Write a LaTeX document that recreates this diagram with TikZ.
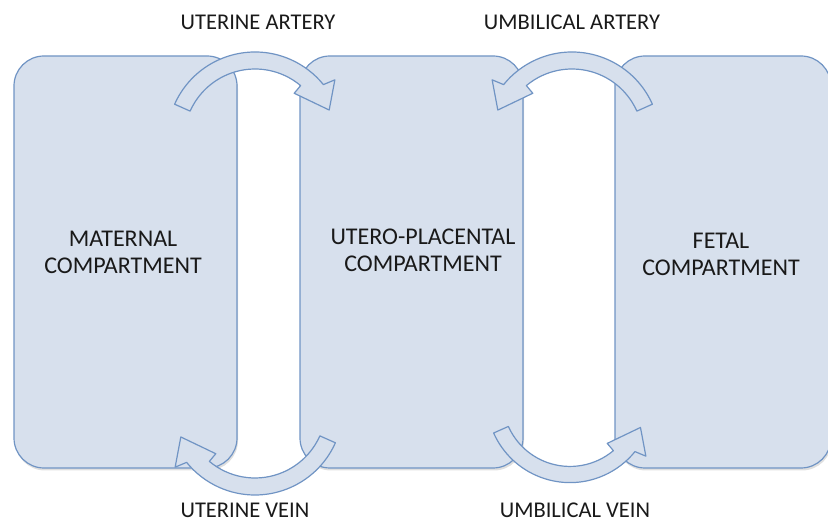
\documentclass[tikz,border=0pt]{standalone}
\usepackage{fontspec}
\setmainfont{Carlito}
\usetikzlibrary{shadows}

\definecolor{boxfill}{RGB}{215,224,237}
\definecolor{boxline}{RGB}{112,148,196}
\definecolor{txt}{RGB}{25,25,25}

\tikzset{
	compbox/.style={draw=boxline, fill=boxfill, line width=1.2pt, rounded corners=30pt,
		minimum width=223pt, minimum height=412pt, inner sep=0pt,
		drop shadow={shadow xshift=1pt, shadow yshift=-2.5pt, opacity=0.25}},
	compname/.style={align=center, text=txt, font=\fontsize{24}{27}\selectfont},
	flowname/.style={text=txt, font=\fontsize{22.5}{26}\selectfont},
	bentarrow/.pic={
		\draw[draw=boxline, fill=boxfill, line width=1.2pt, line join=round]
			(156:88) arc[start angle=156, end angle=39, radius=88] -- (37:100) -- (22:80)
			-- (50:61) -- (50:71) arc[start angle=50, end angle=156, radius=71] -- cycle;
	}
}

\begin{document}
\begin{tikzpicture}[x=1pt, y=1pt]
			\useasboundingbox (0,0) rectangle (828,524);

			% compartments
			\node[compbox] (maternal) at (125.5,262) {};
			\node[compbox] (placenta) at (411.5,262) {};
			\node[compbox, minimum width=216pt] (fetal) at (723,262) {};

			\node[compname] (maternaltext) at ([xshift=-2.5pt, yshift=10pt]maternal.center) {MATERNAL\\COMPARTMENT};
			\node[compname] (placentatext) at ([xshift=11.5pt, yshift=11.5pt]placenta.center) {UTERO-PLACENTAL\\COMPARTMENT};
			\node[compname] (fetaltext) at ([xshift=-2pt, yshift=8pt]fetal.center) {FETAL\\COMPARTMENT};

			% vessels
			\coordinate (c1) at (255,384);
			\coordinate (c2) at (572,384);
			\coordinate (c3) at (255,117);
			\coordinate (c4) at (570,125);

			\pic at (c1) {bentarrow};
			\pic[xscale=-1] at (c2) {bentarrow};
			\pic[xscale=-1, yscale=-1] at (c3) {bentarrow};
			\pic[xscale=0.95, yscale=-0.95] at (c4) {bentarrow};

			\node[flowname] (uterineartery) at (258,502) {UTERINE ARTERY};
			\node[flowname] (umbilicalartery) at (572,502) {UMBILICAL ARTERY};
			\node[flowname] (uterinevein) at (245,14) {UTERINE VEIN};
			\node[flowname] (umbilicalvein) at (575,14) {UMBILICAL VEIN};
		\end{tikzpicture}
\end{document}
